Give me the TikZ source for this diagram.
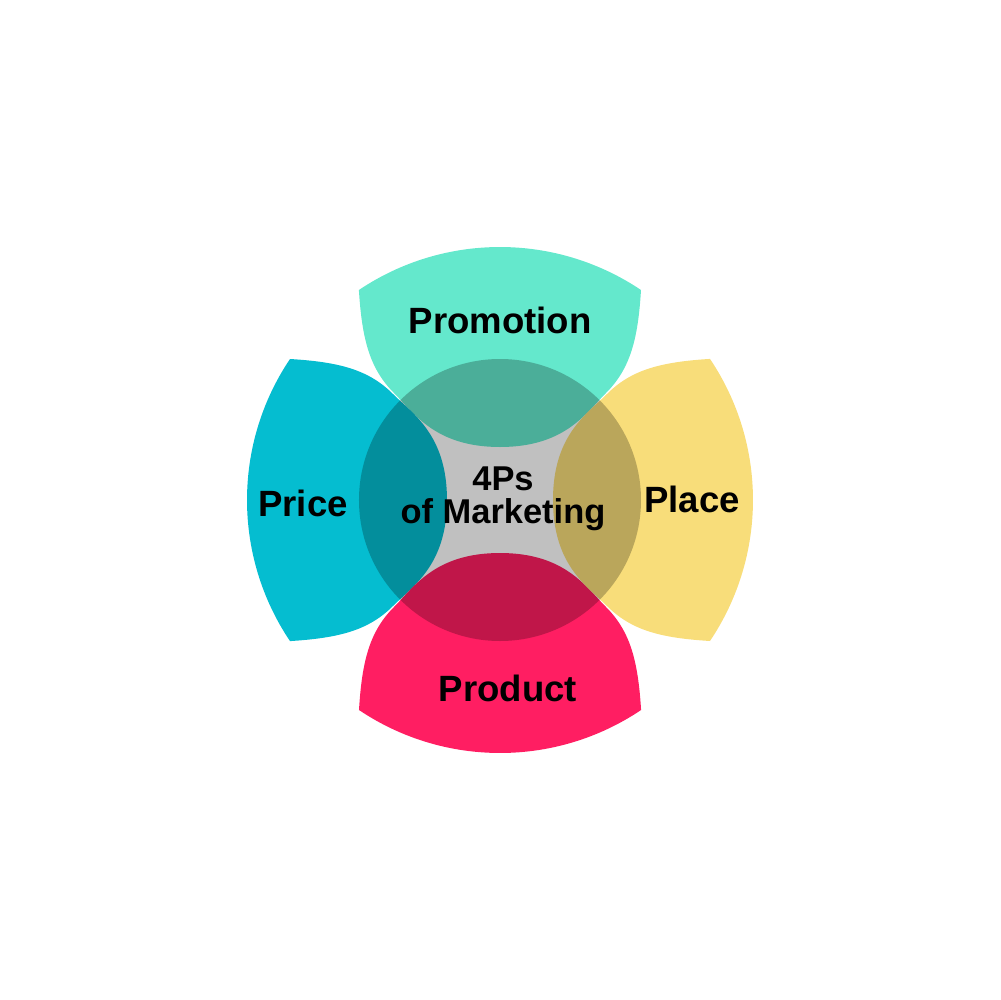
\documentclass[tikz,border=0pt]{standalone}
\usepackage{fontspec}
\setmainfont{Liberation Sans}
\usepackage{xcolor}
\definecolor{promoteal}{RGB}{100,232,204}
\definecolor{pricecyan}{RGB}{5,189,208}
\definecolor{placeyellow}{RGB}{248,221,122}
\definecolor{productpink}{RGB}{255,30,98}
\definecolor{coregray}{RGB}{192,192,192}
\tikzset{
	plabel/.style={font=\fontsize{10.4}{12}\selectfont\bfseries, inner sep=0pt, anchor=base},
	clabel/.style={font=\fontsize{9.8}{9.4}\selectfont\bfseries, align=center, inner sep=0pt}
}

\begin{document}
\begin{tikzpicture}[x=0.1mm, y=0.1mm]
	\useasboundingbox (-500,-500) rectangle (500,500);

	% Petals
	\foreach \ang/\col in {0/promoteal, 90/pricecyan, 180/productpink, 270/placeyellow} {
		\fill[\col, rotate=\ang] (141,210) arc[start angle=56.1, end angle=123.9, radius=252.9]
			.. controls (-138,160) and (-130,131) .. (-106,107)
			.. controls (-86,87) and (-65,53) .. (0,53)
			.. controls (65,53) and (86,87) .. (106,107)
			.. controls (130,131) and (138,160) .. (141,210) -- cycle;
	}

	% Core circle, darkens the petals where it lies over them
	\fill[coregray, blend mode=multiply] (0,0) circle[radius=141];

	% Labels
	\node[plabel] (promotion) at (0,167) {Promotion};
	\node[plabel] (price) at (-197,-16) {Price};
	\node[plabel] (place) at (192,-12) {Place};
	\node[plabel] (product) at (8,-201) {Product};
	\node[clabel] (core) at (3,1) {4Ps\\of Marketing};
\end{tikzpicture}
\end{document}
